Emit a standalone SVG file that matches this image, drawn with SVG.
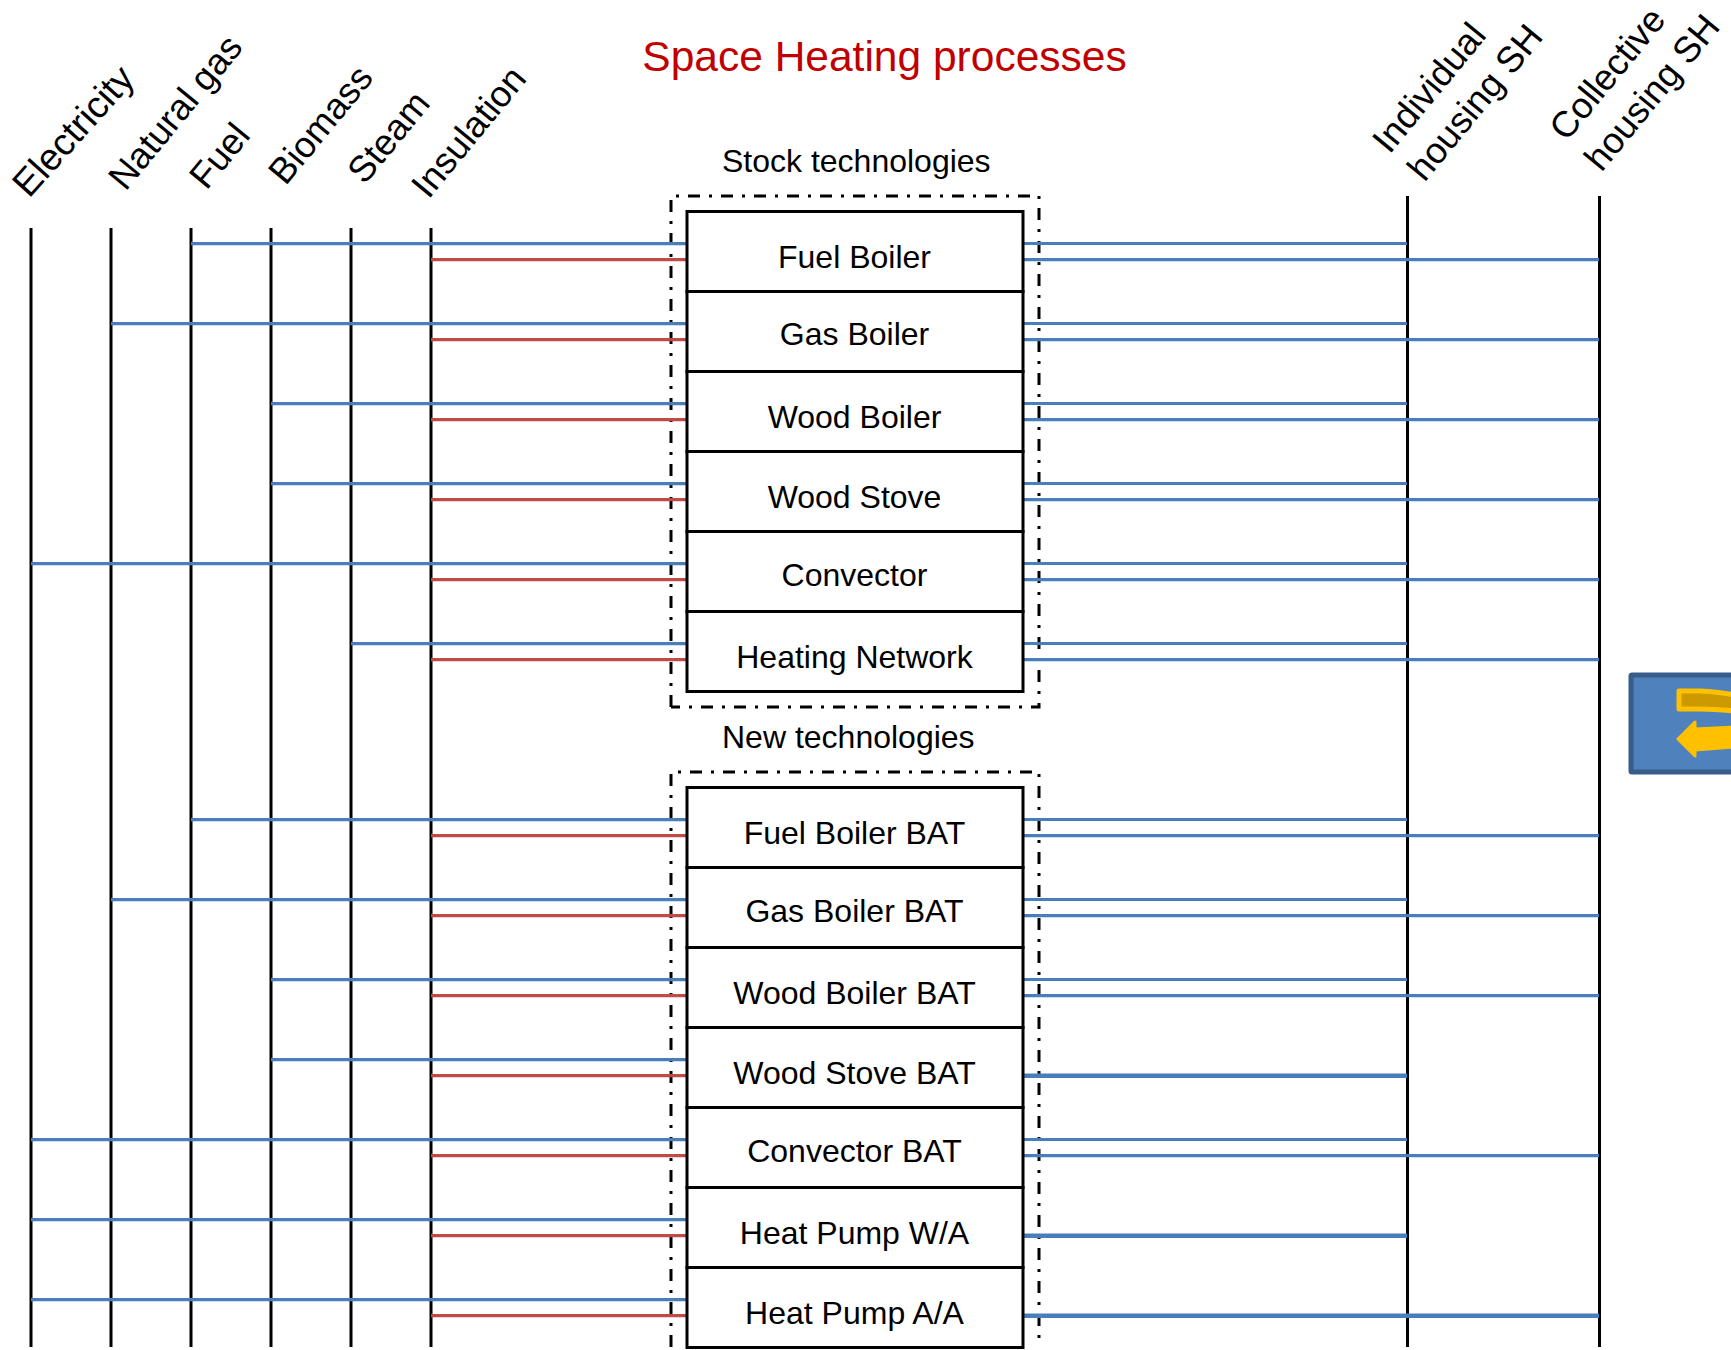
<svg xmlns="http://www.w3.org/2000/svg" width="1731" height="1350" viewBox="0 0 1731 1350">
<style>
text{font-family:"Liberation Sans",Arial,sans-serif;font-size:32px;fill:#000}
.m{text-anchor:middle}
.a{font-size:36.500px}
.v{stroke:#000;stroke-width:3;fill:none}
.r{fill:#fff;stroke:#000;stroke-width:3}
.d{fill:none;stroke:#000;stroke-width:3;stroke-dasharray:12 9 3 9}
.b{stroke:#4A7EBB;stroke-width:3.2;fill:none}
.bt{stroke:#4A7EBB;stroke-width:4.5;fill:none}
.c{stroke:#BE4B48;stroke-width:3.2;fill:none}
</style>
<rect width="1731" height="1350" fill="#fff"/>
<text id="title" x="884.500" y="71" class="m" style="font-size:42.500px;fill:#C00000">Space Heating processes</text>
<g id="carrier-electricity"><path class="v" d="M31 228V1347"/><text class="a" style="font-size:37.500px" transform="translate(29 199) rotate(-48)">Electricity</text></g>
<g id="carrier-natural-gas"><path class="v" d="M111 228V1347"/><text class="a" transform="translate(125.500 192) rotate(-50.500)">Natural gas</text></g>
<g id="carrier-fuel"><path class="v" d="M191 228V1347"/><text class="a" transform="translate(206.500 191) rotate(-50.500)">Fuel</text></g>
<g id="carrier-biomass"><path class="v" d="M271 228V1347"/><text class="a" transform="translate(285.500 186.500) rotate(-50.500)">Biomass</text></g>
<g id="carrier-steam"><path class="v" d="M351 228V1347"/><text class="a" transform="translate(364.500 185.500) rotate(-50.500)">Steam</text></g>
<g id="carrier-insulation"><path class="v" d="M431 228V1347"/><text class="a" transform="translate(428.500 200) rotate(-50.500)">Insulation</text></g>
<g id="demand-individual"><path class="v" d="M1407.500 196V1347"/><text class="a" transform="translate(1389.500 155) rotate(-50.500)">Individual</text><text class="a" transform="translate(1424.500 183) rotate(-50.500)">housing SH</text></g>
<g id="demand-collective"><path class="v" d="M1599.500 196V1347"/><text class="a" transform="translate(1566.500 142.500) rotate(-50.500)">Collective</text><text class="a" transform="translate(1601.500 173) rotate(-50.500)">housing SH</text></g>
<g id="stock-group"><path class="d" d="M671 707V196H1039V707H671"/><text x="722" y="172">Stock technologies</text></g>
<g id="new-group"><path class="d" d="M671 1347V772H1039V1347"/><text x="722" y="748">New technologies</text></g>
<g id="connectors">
<path class="b" d="M191 243.700H687M1023 243.500H1407M1023 259.700H1599"/><path class="c" d="M431 259.700H687"/>
<path class="b" d="M111 323.700H687M1023 323.500H1407M1023 339.700H1599"/><path class="c" d="M431 339.700H687"/>
<path class="b" d="M271 403.700H687M1023 403.500H1407M1023 419.700H1599"/><path class="c" d="M431 419.700H687"/>
<path class="b" d="M271 483.700H687M1023 483.500H1407M1023 499.700H1599"/><path class="c" d="M431 499.700H687"/>
<path class="b" d="M31 563.700H687M1023 563.500H1407M1023 579.700H1599"/><path class="c" d="M431 579.700H687"/>
<path class="b" d="M351 643.700H687M1023 643.500H1407M1023 659.700H1599"/><path class="c" d="M431 659.700H687"/>
<path class="b" d="M191 819.700H687M1023 819.500H1407M1023 835.700H1599"/><path class="c" d="M431 835.700H687"/>
<path class="b" d="M111 899.700H687M1023 899.500H1407M1023 915.700H1599"/><path class="c" d="M431 915.700H687"/>
<path class="b" d="M271 979.700H687M1023 979.500H1407M1023 995.700H1599"/><path class="c" d="M431 995.700H687"/>
<path class="b" d="M271 1059.700H687"/><path class="bt" d="M1023 1075.700H1407"/><path class="c" d="M431 1075.700H687"/>
<path class="b" d="M31 1139.700H687M1023 1139.500H1407M1023 1155.700H1599"/><path class="c" d="M431 1155.700H687"/>
<path class="b" d="M31 1219.700H687"/><path class="bt" d="M1023 1235.700H1407"/><path class="c" d="M431 1235.700H687"/>
<path class="b" d="M31 1299.700H687"/><path class="bt" d="M1023 1315.700H1599"/><path class="c" d="M431 1315.700H687"/>
</g>
<g id="fuel-boiler"><rect class="r" x="687" y="211.500" width="336" height="80"/><text class="m" x="854.500" y="268">Fuel Boiler</text></g>
<g id="gas-boiler"><rect class="r" x="687" y="291.500" width="336" height="80"/><text class="m" x="854.500" y="345">Gas Boiler</text></g>
<g id="wood-boiler"><rect class="r" x="687" y="371.500" width="336" height="80"/><text class="m" x="854.500" y="428">Wood Boiler</text></g>
<g id="wood-stove"><rect class="r" x="687" y="451.500" width="336" height="80"/><text class="m" x="854.500" y="508">Wood Stove</text></g>
<g id="convector"><rect class="r" x="687" y="531.500" width="336" height="80"/><text class="m" x="854.500" y="586">Convector</text></g>
<g id="heating-network"><rect class="r" x="687" y="611.500" width="336" height="80"/><text class="m" x="854.500" y="668">Heating Network</text></g>
<g id="fuel-boiler-bat"><rect class="r" x="687" y="787.500" width="336" height="80"/><text class="m" x="854.500" y="844">Fuel Boiler BAT</text></g>
<g id="gas-boiler-bat"><rect class="r" x="687" y="867.500" width="336" height="80"/><text class="m" x="854.500" y="922">Gas Boiler BAT</text></g>
<g id="wood-boiler-bat"><rect class="r" x="687" y="947.500" width="336" height="80"/><text class="m" x="854.500" y="1004">Wood Boiler BAT</text></g>
<g id="wood-stove-bat"><rect class="r" x="687" y="1027.500" width="336" height="80"/><text class="m" x="854.500" y="1084">Wood Stove BAT</text></g>
<g id="convector-bat"><rect class="r" x="687" y="1107.500" width="336" height="80"/><text class="m" x="854.500" y="1162">Convector BAT</text></g>
<g id="heat-pump-wa"><rect class="r" x="687" y="1187.500" width="336" height="80"/><text class="m" x="854.500" y="1244">Heat Pump W/A</text></g>
<g id="heat-pump-aa"><rect class="r" x="687" y="1267.500" width="336" height="80"/><text class="m" x="854.500" y="1324">Heat Pump A/A</text></g>
<g id="icon">
<rect x="1631" y="675" width="120" height="97" rx="1" fill="#4F81BD" stroke="#385D8A" stroke-width="5"/>
<path d="M1679 691L1700 691Q1720 692 1735 695V711Q1715 709 1700 709L1679 709Z" fill="#CC9900" stroke="#FFC000" stroke-width="5" stroke-linejoin="round"/>
<path d="M1678 739L1695 722V729L1735 727V747L1695 750V756Z" fill="#FFC000" stroke="#FFC000" stroke-width="3" stroke-linejoin="round"/>
</g>
</svg>
